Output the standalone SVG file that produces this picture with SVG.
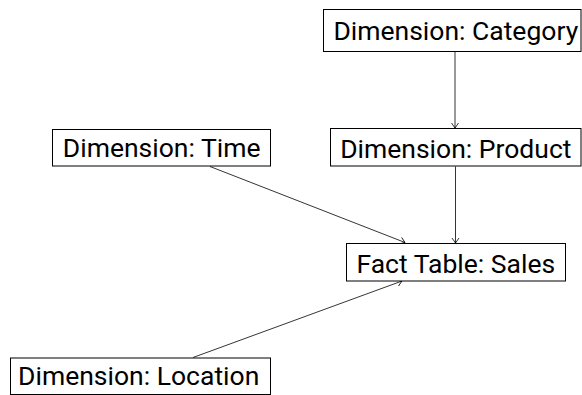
<svg xmlns="http://www.w3.org/2000/svg" width="582" height="395" viewBox="0 0 582 395">
  <style>
    .box { fill: #ffffff; stroke: #000000; stroke-width: 1; }
    .lbl { font-family: Roboto, "Noto Sans", sans-serif; font-size: 26.5px; fill: #000000; text-anchor: middle; }
    .edge { fill: none; stroke: #000000; stroke-width: 0.8; marker-end: url(#arrow); }
  </style>
  <defs>
    <marker id="arrow" viewBox="-6 -5 7 10" refX="0" refY="0" markerWidth="7" markerHeight="10" markerUnits="userSpaceOnUse" orient="auto">
      <path d="M -5 -3.5 L 0 0 L -5 3.5" fill="none" stroke="#000000" stroke-width="0.8"/>
    </marker>
  </defs>

  <g id="connectors">
    <line class="edge" x1="455" y1="52" x2="455" y2="128"/>
    <line class="edge" x1="455.5" y1="166.5" x2="455.5" y2="243"/>
    <line class="edge" x1="210" y1="166.5" x2="405" y2="242.5"/>
    <line class="edge" x1="193" y1="357.5" x2="402" y2="281"/>
  </g>

  <g id="category">
    <rect class="box" x="323.5" y="9.5" width="257.5" height="42"/>
    <text class="lbl" x="455.8" y="40">Dimension: Category</text>
  </g>
  <g id="product">
    <rect class="box" x="330.5" y="128.5" width="250.5" height="37.5"/>
    <text class="lbl" x="455.8" y="157.5">Dimension: Product</text>
  </g>
  <g id="time">
    <rect class="box" x="52.5" y="129.5" width="218" height="36.5"/>
    <text class="lbl" x="161.7" y="156.5">Dimension: Time</text>
  </g>
  <g id="sales">
    <rect class="box" x="346.5" y="243.5" width="219" height="37.5"/>
    <text class="lbl" x="455.8" y="272.5">Fact Table: Sales</text>
  </g>
  <g id="location">
    <rect class="box" x="10.5" y="358" width="260" height="36.5"/>
    <text class="lbl" x="138.7" y="384.5">Dimension: Location</text>
  </g>
</svg>
